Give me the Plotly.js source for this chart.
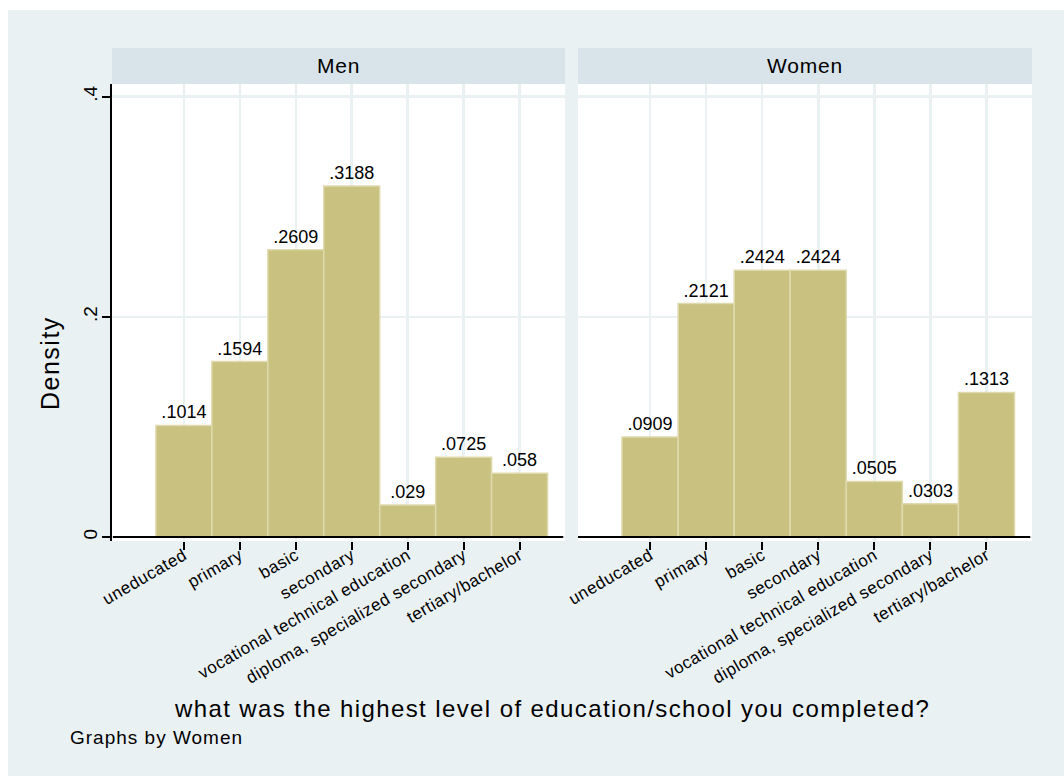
<!DOCTYPE html>
<html>
<head>
<meta charset="utf-8">
<script src="https://cdn.plot.ly/plotly-3.0.1.min.js"></script>
<style>
  html, body { margin: 0; padding: 0; background: #ffffff; }
  #chart { position: absolute; left: 8px; top: 10px; width: 1056px; height: 766px; }
</style>
</head>
<body>
<div id="chart"></div>
<script>
// ---- data ----
const categories = ['uneducated', 'primary', 'basic', 'secondary',
  'vocational technical education', 'diploma, specialized secondary', 'tertiary/bachelor'];
const categoryCodes = [1, 2, 3, 4, 5, 6, 7];
const menDensity = [0.1014, 0.1594, 0.2609, 0.3188, 0.029, 0.0725, 0.058];
const womenDensity = [0.0909, 0.2121, 0.2424, 0.2424, 0.0505, 0.0303, 0.1313];
const panelNames = ['Men', 'Women'];
const yTickVals = [0, 0.2, 0.4];
const yTickText = ['0', '.2', '.4'];
const xTitle = 'what was the highest level of education/school you completed?';
const yTitle = 'Density';
const noteText = 'Graphs by Women';

// ---- styling ----
const FONT = 'Liberation Sans, Arial, Helvetica, sans-serif';
const BG = '#eaf1f3';
const STRIP = '#d8e4ea';
const GRID = '#eaf1f3';
const BAR = '#c9c17f';
const BAR_EDGE = '#dfdaae';
const sp = (t, ls) => '<span style="letter-spacing:' + ls + 'px">' + t + '</span>';
const fmt = v => String(v).replace(/^0(?=\.)/, '');

function barTrace(values, xa, ya) {
  return {
    type: 'bar', x: categoryCodes, y: values, width: 1,
    xaxis: xa, yaxis: ya,
    marker: { color: BAR, line: { color: BAR_EDGE, width: 1.5 } },
    text: values.map(fmt), textposition: 'outside', constraintext: 'none',
    cliponaxis: false,
    textfont: { family: FONT, size: 18, color: '#000' },
    hoverinfo: 'skip', showlegend: false
  };
}

const data = [
  barTrace(menDensity, 'x', 'y'),
  barTrace(womenDensity, 'x2', 'y2')
];

const xRange = [-0.285, 7.812];
const yRange = [-0.0036, 0.4115];
const tickFont = { family: FONT, size: 17, color: '#000' };

function xAxis(domain, anchor) {
  return {
    domain: domain, anchor: anchor, range: xRange, fixedrange: true,
    tickmode: 'array', tickvals: categoryCodes,
    ticktext: categories.map(c => sp(c, 0.5)),
    tickangle: -30, tickfont: tickFont, ticklabelstandoff: -11,
    ticks: 'outside', ticklen: 8, tickwidth: 2, tickcolor: '#000',
    showgrid: true, gridcolor: GRID, gridwidth: 2.5,
    showline: false, zeroline: false
  };
}

const layout = {
  width: 1056, height: 766,
  margin: { l: 104, r: 32, t: 74, b: 235 },
  paper_bgcolor: BG, plot_bgcolor: '#ffffff',
  font: { family: FONT, color: '#000' },
  bargap: 0,
  xaxis: xAxis([0, 0.49239], 'y'),
  xaxis2: xAxis([0.50652, 1], 'y2'),
  yaxis: {
    domain: [0, 1], anchor: 'x', range: yRange, fixedrange: true,
    tickmode: 'array', tickvals: yTickVals, ticktext: yTickText,
    tickangle: -90, tickfont: { family: FONT, size: 19, color: '#000' },
    ticklabelstandoff: -3,
    ticks: 'outside', ticklen: 8, tickwidth: 2, tickcolor: '#000',
    showline: true, linecolor: '#000', linewidth: 2,
    showgrid: true, gridcolor: GRID, gridwidth: 2.5, zeroline: false
  },
  yaxis2: {
    domain: [0, 1], anchor: 'x2', range: yRange, fixedrange: true,
    tickmode: 'array', tickvals: yTickVals, showticklabels: false, ticks: '',
    showline: false, showgrid: true, gridcolor: GRID, gridwidth: 2.5, zeroline: false
  },
  shapes: [
    // strips
    { type: 'rect', xref: 'x domain', yref: 'paper', x0: 0, x1: 1, y0: 1, y1: 1.0788,
      fillcolor: STRIP, line: { width: 0 }, layer: 'below' },
    { type: 'rect', xref: 'x2 domain', yref: 'paper', x0: 0, x1: 1, y0: 1, y1: 1.0788,
      fillcolor: STRIP, line: { width: 0 }, layer: 'below' },
    // zero (x-axis) lines drawn over bars
    { type: 'line', xref: 'x domain', yref: 'y', x0: 0.002, x1: 0.996, y0: 0, y1: 0,
      line: { color: '#000', width: 2 }, layer: 'above' },
    { type: 'line', xref: 'x2 domain', yref: 'y2', x0: 0, x1: 0.996, y0: 0, y1: 0,
      line: { color: '#000', width: 2 }, layer: 'above' }
  ],
  annotations: [
    { xref: 'x domain', yref: 'paper', x: 0.5, y: 1.0394, showarrow: false,
      text: sp(panelNames[0], 0.8), font: { family: FONT, size: 21, color: '#000' },
      xanchor: 'center', yanchor: 'middle' },
    { xref: 'x2 domain', yref: 'paper', x: 0.5, y: 1.0394, showarrow: false,
      text: sp(panelNames[1], 0.8), font: { family: FONT, size: 21, color: '#000' },
      xanchor: 'center', yanchor: 'middle' },
    { xref: 'paper', yref: 'paper', x: -0.0674, y: 0.3895, showarrow: false,
      text: sp(yTitle, 1.5), textangle: -90, font: { family: FONT, size: 25, color: '#000' },
      xanchor: 'center', yanchor: 'middle' },
    { xref: 'paper', yref: 'paper', x: 0.4783, y: -0.3676, showarrow: false,
      text: sp(xTitle, 1.4), font: { family: FONT, size: 24, color: '#000' },
      xanchor: 'center', yanchor: 'middle' },
    { xref: 'paper', yref: 'paper', x: -0.0478, y: -0.431, showarrow: false,
      text: sp(noteText, 1), font: { family: FONT, size: 19, color: '#000' },
      xanchor: 'left', yanchor: 'middle' }
  ]
};

Plotly.newPlot('chart', data, layout, { displayModeBar: false, staticPlot: true });
</script>
</body>
</html>
